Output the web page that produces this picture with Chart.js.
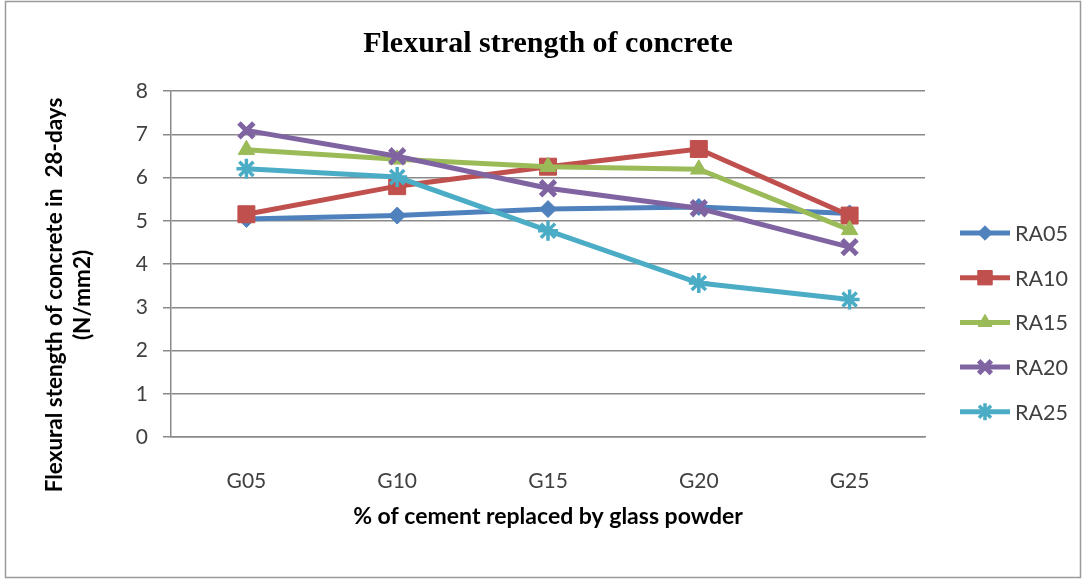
<!DOCTYPE html>
<html>
<head>
<meta charset="utf-8">
<style>
  html, body { margin: 0; padding: 0; background: #ffffff; }
  #wrap { width: 1084px; height: 580px; position: relative; }
  canvas { display: block; }
</style>
<script src="https://cdn.jsdelivr.net/npm/chart.js@4/dist/chart.umd.min.js"></script>
</head>
<body>
<div id="wrap"><canvas id="chart" width="1084" height="580"></canvas></div>
<script>
// Mix designations (share of cement replaced by glass powder)
const categories = ['G05', 'G10', 'G15', 'G20', 'G25'];

// 28-day flexural strength, N/mm2, per recycled-aggregate level
const ra05 = [5.04, 5.12, 5.27, 5.32, 5.17];
const ra10 = [5.15, 5.80, 6.25, 6.66, 5.12];
const ra15 = [6.64, 6.42, 6.25, 6.19, 4.79];
const ra20 = [7.09, 6.49, 5.75, 5.29, 4.39];
const ra25 = [6.20, 6.01, 4.77, 3.56, 3.18];

const seriesNames = ['RA05', 'RA10', 'RA15', 'RA20', 'RA25'];
const seriesValues = [ra05, ra10, ra15, ra20, ra25];

const yTicks = [0, 1, 2, 3, 4, 5, 6, 7, 8];

const chartTitle = 'Flexural strength of concrete';
const yTitle = ['Flexural stength of concrete in  28-days', '(N/mm2)'];
const xTitle = '% of cement replaced by glass powder';

const colors = ['#4F81BD', '#C0504D', '#9BBB59', '#8064A2', '#4BACC6'];
const markers = [
  { pointStyle: 'rectRot', radius: 8.5, borderWidth: 1 },
  { pointStyle: 'rect', radius: 12, borderWidth: 1 },
  { pointStyle: 'triangle', radius: 9.5, borderWidth: 1 },
  { pointStyle: 'crossRot', radius: 10.5, borderWidth: 5 },
  { pointStyle: 'star', radius: 10, borderWidth: 3.5 }
];

const UI_FONT = 'Lato, "Open Sans", "DejaVu Sans", sans-serif';
const AXIS_GREY = '#8a8a8a';
const TEXT_GREY = '#404040';

const datasets = seriesNames.map((name, i) => ({
  label: name,
  data: seriesValues[i],
  borderColor: colors[i],
  backgroundColor: colors[i],
  borderWidth: 5,
  pointStyle: markers[i].pointStyle,
  pointRadius: markers[i].radius,
  pointHoverRadius: markers[i].radius,
  pointBorderWidth: markers[i].borderWidth,
  pointBackgroundColor: colors[i],
  pointBorderColor: colors[i],
  tension: 0,
  order: seriesNames.length - i
}));

// Legend on the right: a short line segment with the series marker in its middle
const sideLegend = {
  id: 'sideLegend',
  afterDraw(chart) {
    const ctx = chart.ctx;
    const x0 = 960, x1 = 1010, top = 233, step = 44.7;
    ctx.save();
    chart.data.datasets.forEach((ds, i) => {
      const y = top + i * step;
      ctx.strokeStyle = ds.borderColor;
      ctx.lineWidth = 5;
      ctx.beginPath();
      ctx.moveTo(x0, y);
      ctx.lineTo(x1, y);
      ctx.stroke();
      ctx.fillStyle = ds.pointBackgroundColor;
      ctx.strokeStyle = ds.pointBorderColor;
      ctx.lineWidth = ds.pointBorderWidth;
      Chart.helpers.drawPoint(ctx, {
        pointStyle: ds.pointStyle,
        radius: ds.pointRadius * 0.85,
        rotation: 0,
        borderWidth: ds.pointBorderWidth
      }, (x0 + x1) / 2, y);
      ctx.fillStyle = TEXT_GREY;
      ctx.font = '21.5px ' + UI_FONT;
      ctx.textAlign = 'left';
      ctx.textBaseline = 'middle';
      ctx.fillText(ds.label, x1 + 5, y + 1);
    });
    ctx.restore();
  }
};

// Two-line vertical title for the value axis
const valueAxisTitle = {
  id: 'valueAxisTitle',
  afterDraw(chart) {
    const ctx = chart.ctx;
    ctx.save();
    ctx.translate(55, 295);
    ctx.rotate(-Math.PI / 2);
    ctx.fillStyle = '#000000';
    ctx.font = 'bold 22.5px ' + UI_FONT;
    ctx.textAlign = 'center';
    ctx.textBaseline = 'middle';
    yTitle.forEach((line, i) => ctx.fillText(line, 0, i * 28));
    ctx.restore();
  }
};

// Thin frame round the whole chart
const chartFrame = {
  id: 'chartFrame',
  beforeDraw(chart) {
    const ctx = chart.ctx;
    ctx.save();
    ctx.fillStyle = '#ffffff';
    ctx.fillRect(0, 0, chart.width, chart.height);
    ctx.strokeStyle = '#9a9a9a';
    ctx.lineWidth = 1.5;
    ctx.strokeRect(5.5, 1.5, chart.width - 9, chart.height - 4);
    ctx.restore();
  }
};

new Chart(document.getElementById('chart'), {
  type: 'line',
  data: { labels: categories, datasets },
  plugins: [chartFrame, sideLegend, valueAxisTitle],
  options: {
    responsive: false,
    animation: false,
    devicePixelRatio: 1,
    layout: { padding: { left: 0, right: 159, top: 0, bottom: 0 } },
    plugins: {
      legend: { display: false },
      tooltip: { enabled: false },
      title: {
        display: true,
        fullSize: false,
        text: chartTitle,
        color: '#000000',
        font: { family: '"Liberation Serif", "Times New Roman", serif', size: 30, weight: 'bold', lineHeight: 1.2 },
        padding: { top: 26, bottom: 29 }
      }
    },
    scales: {
      x: {
        offset: true,
        grid: { display: false, drawTicks: false },
        border: { display: true, color: AXIS_GREY, width: 1.5 },
        ticks: { color: TEXT_GREY, font: { family: UI_FONT, size: 21 }, padding: 32 },
        title: {
          display: true,
          text: xTitle,
          color: '#000000',
          font: { family: UI_FONT, size: 23, weight: 'bold' },
          padding: { top: 0, bottom: 50 }
        },
        afterFit(scale) { scale.height = 143; }
      },
      y: {
        min: 0,
        max: 8,
        afterBuildTicks(scale) { scale.ticks = yTicks.map(v => ({ value: v })); },
        grid: { color: AXIS_GREY, lineWidth: 1.5, tickLength: 8, drawTicks: true },
        border: { display: true, color: AXIS_GREY, width: 1.5 },
        ticks: { color: TEXT_GREY, font: { family: UI_FONT, size: 21 }, padding: 15 },
        afterFit(scale) { scale.width = 171; }
      }
    }
  }
});
</script>
</body>
</html>
